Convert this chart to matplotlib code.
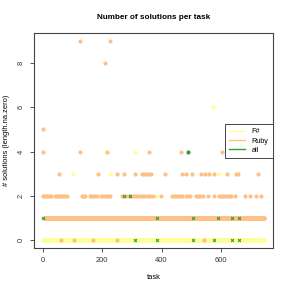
import matplotlib
matplotlib.use("Agg")
import matplotlib.pyplot as plt
import numpy as np
from matplotlib.lines import Line2D

plt.rcParams['font.family'] = ['Liberation Sans', 'DejaVu Sans']

n_tasks = 745
tasks = np.arange(1, n_tasks + 1)

# Ruby: number of solutions per task (default 1, exceptions)
ruby_default = 1
ruby_0 = [15, 63, 106, 169, 251, 448, 542]
ruby_2 = [2, 6, 10, 15, 20, 25, 30, 42, 47, 52, 57, 62, 70, 76, 83,
          126, 131, 137, 144, 159, 164, 170, 176, 182, 188, 195,
          204, 210, 216, 222, 228, 268, 275, 282, 289,
          295, 301, 308, 315, 322, 330, 338, 346, 354, 362, 370,
          399, 434, 441, 448, 455, 462, 468, 482, 490, 497,
          516, 523, 530, 538, 555, 575,
          594, 601, 608, 615, 622, 629, 635, 648, 682, 698, 718, 735]
ruby_3 = [56, 188, 249, 274, 311, 335, 342, 349, 356, 364, 411, 469, 483,
          502, 532, 547, 561, 577, 620, 649, 656, 724]
ruby_4 = [1, 126, 218, 359, 465, 604]
ruby_5 = [3]
ruby_8 = [211]
ruby_9 = [125, 227]

# F#: number of solutions per task (default 0)
fs_default = 0
fs_1 = [180, 200, 232]
fs_2 = [1, 270, 380]
fs_3 = [103, 228, 593]
fs_4 = [212, 311]
fs_6 = [573]

# all: visible marks
all_x = [311, 386, 506, 575, 637, 661, 1, 386, 505, 589, 637, 661, 274, 293]
all_y = [0, 0, 0, 0, 0, 0, 1, 1, 1, 1, 1, 1, 2, 2]
all_dot_x = [489]
all_dot_y = [4]

ruby = np.full(n_tasks, ruby_default)
for val, lst in [(0, ruby_0), (2, ruby_2), (3, ruby_3), (4, ruby_4),
                 (5, ruby_5), (8, ruby_8), (9, ruby_9)]:
    for t in lst:
        ruby[t - 1] = val
fsharp = np.full(n_tasks, fs_default)
for val, lst in [(1, fs_1), (2, fs_2), (3, fs_3), (4, fs_4), (6, fs_6)]:
    for t in lst:
        fsharp[t - 1] = val

c_fs = '#FFFF99'
c_ruby = '#FDC086'
c_all = '#2CA02C'

fig = plt.figure(figsize=(2.91, 2.91), dpi=100)
ax = fig.add_axes([34/291, 43/291, 239/291, 215/291])

ms = 3.0
ax.plot(tasks, fsharp, 'o', color=c_fs, markersize=ms, markeredgewidth=0)
ax.plot(tasks, ruby, 'o', color=c_ruby, markersize=ms, markeredgewidth=0)
ax.plot(all_x, all_y, 'x', color=c_all, markersize=2.0, markeredgewidth=0.8)
ax.plot(all_dot_x, all_dot_y, 'o', color=c_all, markersize=ms, markeredgewidth=0)

xmin, xmax = 1, n_tasks
dx = (xmax - xmin) * 0.04
ax.set_xlim(xmin - dx, xmax + dx)
ax.set_ylim(-0.36, 9.36)
ax.set_xticks([0, 200, 400, 600])
ax.set_yticks([0, 2, 4, 6, 8])
ax.tick_params(labelsize=5.4, length=3, width=0.6, pad=3.5, colors='#333333')
for lab in ax.get_yticklabels():
    lab.set_rotation(90)
    lab.set_va('center')
for s in ax.spines.values():
    s.set_linewidth(0.8)
    s.set_color('#444444')

ax.set_title('Number of solutions per task', fontsize=5.9, fontweight='bold', pad=10)
ax.set_xlabel('task', fontsize=5.4, labelpad=7)
ax.set_ylabel('# solutions (length.na.zero)', fontsize=5.4, labelpad=6)

handles = [Line2D([], [], color=c_fs, lw=1), Line2D([], [], color=c_ruby, lw=1),
           Line2D([], [], color=c_all, lw=1)]
leg = ax.legend(handles, ['F#', 'Ruby', 'all'], loc='upper right',
                bbox_to_anchor=(1.0, (248-124)/215), borderaxespad=0,
                fontsize=5.2, handlelength=2.2, handletextpad=0.9,
                labelspacing=0.3, borderpad=0.6, fancybox=False,
                edgecolor='#444444', framealpha=1)
leg.get_frame().set_linewidth(0.7)

fig.savefig('out.png', dpi=100)
